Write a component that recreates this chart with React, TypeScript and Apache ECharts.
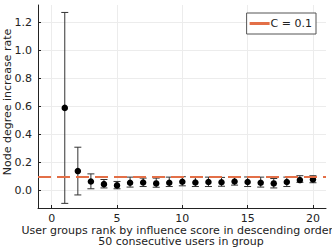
import React, { useEffect, useRef } from "react";
import * as echarts from "echarts";

const ranks = [1, 2, 3, 4, 5, 6, 7, 8, 9, 10, 11, 12, 13, 14, 15, 16, 17, 18, 19, 20];
const means = [0.59, 0.14, 0.066, 0.047, 0.038, 0.057, 0.059, 0.052, 0.057, 0.064, 0.059, 0.062, 0.06, 0.066, 0.062, 0.057, 0.052, 0.062, 0.076, 0.08];
const upper = [1.27, 0.31, 0.12, 0.08, 0.066, 0.097, 0.09, 0.09, 0.097, 0.1, 0.097, 0.097, 0.095, 0.097, 0.098, 0.097, 0.087, 0.097, 0.107, 0.107];
const lower = [-0.09, -0.03, 0.014, 0.02, 0.014, 0.026, 0.03, 0.025, 0.03, 0.035, 0.03, 0.03, 0.032, 0.04, 0.03, 0.026, 0.02, 0.03, 0.06, 0.057];
const cValue = 0.1;
const xTicks = [0, 5, 10, 15, 20];
const yTicks = [0, 0.2, 0.4, 0.6, 0.8, 1.0, 1.2];

const FONT = "DejaVu Sans";

export default function App() {
  const ref = useRef<HTMLDivElement>(null);
  useEffect(() => {
    if (!ref.current) return;
    const chart = echarts.init(ref.current, null, { renderer: "svg" });
    const errData = ranks.map((r, i) => [r, lower[i], upper[i]]);
    chart.setOption({
      animation: false,
      grid: { left: 38, top: 5, right: 6, bottom: 41 },
      legend: {
        data: [{ name: "C = 0.1", icon: "rect" }],
        right: 16,
        top: 13,
        itemWidth: 20,
        itemHeight: 3,
        itemGap: 2,
        padding: [5, 4, 5, 3],
        borderColor: "#555",
        borderWidth: 1,
        backgroundColor: "#fff",
        textStyle: { fontFamily: FONT, fontSize: 11, color: "#222", padding: [0, 0, 0, -4] },
      },
      xAxis: {
        type: "value",
        min: -1.05,
        max: 21,
        axisLine: { onZero: false, lineStyle: { color: "#222" } },
        axisTick: { show: true, inside: true, length: 3, customValues: xTicks, lineStyle: { color: "#222" } },
        axisLabel: { customValues: xTicks, fontFamily: FONT, fontSize: 11, color: "#222", margin: 5 },
        splitLine: { show: true, lineStyle: { color: "#ececec", width: 1 } },
      },
      yAxis: {
        type: "value",
        min: -0.123,
        max: 1.323,
        axisLine: { show: true, onZero: false, lineStyle: { color: "#222" } },
        axisTick: { show: true, inside: true, length: 3, customValues: yTicks, lineStyle: { color: "#222" } },
        axisLabel: {
          customValues: yTicks,
          formatter: (v: number) => v.toFixed(1),
          fontFamily: FONT,
          fontSize: 11,
          color: "#222",
          margin: 6,
        },
        splitLine: { show: true, lineStyle: { color: "#ececec", width: 1 } },
      },
      graphic: [
        {
          type: "text",
          x: 7,
          y: 102,
          rotation: Math.PI / 2,
          style: {
            text: "Node degree increase rate",
            font: `11px "${FONT}"`,
            fill: "#222",
            align: "center",
            verticalAlign: "middle",
          },
        },
        {
          type: "text",
          x: 179,
          y: 230,
          style: {
            text: "User groups rank by influence score in descending order,",
            font: `11px "${FONT}"`,
            fill: "#222",
            align: "center",
            verticalAlign: "middle",
          },
        },
        {
          type: "text",
          x: 181,
          y: 241,
          style: {
            text: "50 consecutive users in group",
            font: `11px "${FONT}"`,
            fill: "#222",
            align: "center",
            verticalAlign: "middle",
          },
        },
      ],
      series: [
        {
          name: "C = 0.1",
          type: "line",
          data: [],
          symbol: "none",
          itemStyle: { color: "#e36f47" },
          lineStyle: { color: "#e36f47", width: 2 },
          markLine: {
            silent: true,
            symbol: "none",
            label: { show: false },
            lineStyle: { color: "#e36f47", width: 2, type: [13, 6] },
            data: [{ yAxis: cValue }],
          },
          z: 1,
        },
        {
          type: "custom",
          data: errData,
          renderItem: (params: any, api: any) => {
            const x = api.value(0);
            const lo = api.coord([x, api.value(1)]);
            const hi = api.coord([x, api.value(2)]);
            const cap = 3.5;
            const style = { stroke: "#333", lineWidth: 1, fill: "none" };
            return {
              type: "group",
              children: [
                { type: "line", shape: { x1: lo[0], y1: lo[1], x2: hi[0], y2: hi[1] }, style },
                { type: "line", shape: { x1: lo[0] - cap, y1: lo[1], x2: lo[0] + cap, y2: lo[1] }, style },
                { type: "line", shape: { x1: hi[0] - cap, y1: hi[1], x2: hi[0] + cap, y2: hi[1] }, style },
              ],
            };
          },
          z: 2,
        },
        {
          type: "scatter",
          data: ranks.map((r, i) => [r, means[i]]),
          symbol: "circle",
          symbolSize: 6.5,
          itemStyle: { color: "#000", opacity: 1 },
          z: 3,
        },
      ],
    });
    return () => chart.dispose();
  }, []);
  return <div ref={ref} style={{ width: 332, height: 249, position: "absolute", left: 0, top: 0 }} />;
}
